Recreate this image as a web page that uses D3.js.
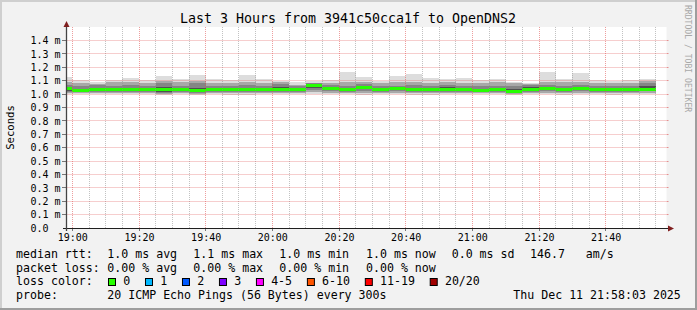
<!DOCTYPE html>
<html>
<head>
<meta charset="utf-8">
<script src="https://cdn.jsdelivr.net/npm/d3@7"></script>
<style>
  html, body { margin: 0; padding: 0; background: #f2f2f2; }
  svg { display: block; }
  text { font-family: "DejaVu Sans Mono", monospace; fill: #000; }
</style>
</head>
<body>
<svg id="chart" width="697" height="310"></svg>
<script>
// 5 minute bins (start time of each bin)
const binTimes = ["18:55", "19:00", "19:05", "19:10", "19:15", "19:20", "19:25", "19:30", "19:35",
  "19:40", "19:45", "19:50", "19:55", "20:00", "20:05", "20:10", "20:15", "20:20", "20:25", "20:30",
  "20:35", "20:40", "20:45", "20:50", "20:55", "21:00", "21:05", "21:10", "21:15", "21:20", "21:25",
  "21:30", "21:35", "21:40", "21:45", "21:50"];

// sorted ping rtt percentiles per bin, in ms (p1 = fastest of 20, p20 = slowest)
const p1 = [1.003, 0.999, 0.999, 1.000, 0.999, 1.000, 0.994, 0.999, 0.993, 1.000, 0.994, 0.996, 0.999,
  0.999, 1.000, 1.000, 1.000, 0.999, 0.995, 0.999, 1.000, 0.996, 0.994, 0.999, 0.999, 0.998, 0.999,
  0.995, 0.997, 1.000, 0.994, 1.000, 0.999, 0.994, 0.999, 1.000];
const p4 = [1.010, 1.006, 1.008, 1.008, 1.008, 1.008, 1.002, 1.008, 1.002, 1.010, 1.004, 1.006, 1.008,
  1.008, 1.008, 1.015, 1.010, 1.008, 1.005, 1.008, 1.010, 1.006, 1.004, 1.008, 1.008, 1.005, 1.008,
  1.002, 1.006, 1.010, 1.004, 1.010, 1.008, 1.004, 1.008, 1.010];
const p7 = [1.018, 1.012, 1.018, 1.016, 1.015, 1.016, 1.010, 1.016, 1.010, 1.018, 1.014, 1.016, 1.018,
  1.018, 1.015, 1.030, 1.022, 1.018, 1.020, 1.018, 1.020, 1.015, 1.014, 1.018, 1.016, 1.012, 1.016,
  1.008, 1.016, 1.020, 1.012, 1.020, 1.016, 1.014, 1.016, 1.020];
const p9 = [1.025, 1.018, 1.026, 1.023, 1.021, 1.023, 1.018, 1.023, 1.016, 1.026, 1.023, 1.023, 1.026,
  1.026, 1.021, 1.045, 1.033, 1.026, 1.035, 1.026, 1.031, 1.023, 1.023, 1.026, 1.023, 1.019, 1.023,
  1.013, 1.026, 1.030, 1.019, 1.031, 1.023, 1.023, 1.023, 1.028];
const median = [1.042, 1.027, 1.035, 1.032, 1.030, 1.032, 1.035, 1.032, 1.025, 1.035, 1.032, 1.032, 1.035,
  1.035, 1.030, 1.067, 1.042, 1.035, 1.052, 1.035, 1.040, 1.032, 1.032, 1.035, 1.032, 1.028, 1.032,
  1.022, 1.035, 1.039, 1.035, 1.040, 1.032, 1.032, 1.032, 1.037];
const p12 = [1.050, 1.036, 1.044, 1.041, 1.040, 1.041, 1.055, 1.041, 1.042, 1.044, 1.041, 1.046, 1.044,
  1.055, 1.039, 1.078, 1.051, 1.044, 1.061, 1.044, 1.049, 1.041, 1.048, 1.050, 1.041, 1.037, 1.041,
  1.038, 1.055, 1.048, 1.044, 1.049, 1.047, 1.041, 1.041, 1.058];
const p14 = [1.065, 1.060, 1.065, 1.062, 1.068, 1.060, 1.080, 1.060, 1.085, 1.062, 1.058, 1.068, 1.062,
  1.075, 1.058, 1.080, 1.065, 1.062, 1.075, 1.060, 1.062, 1.065, 1.060, 1.065, 1.060, 1.060, 1.062,
  1.062, 1.068, 1.065, 1.062, 1.065, 1.062, 1.058, 1.060, 1.082];
const p17 = [1.090, 1.085, 1.078, 1.088, 1.090, 1.085, 1.095, 1.088, 1.100, 1.085, 1.085, 1.090, 1.085,
  1.090, 1.070, 1.085, 1.085, 1.090, 1.090, 1.085, 1.088, 1.090, 1.085, 1.090, 1.085, 1.085, 1.088,
  1.080, 1.075, 1.090, 1.088, 1.090, 1.085, 1.082, 1.085, 1.095];
const p20 = [1.129, 1.104, 1.090, 1.104, 1.119, 1.104, 1.134, 1.112, 1.142, 1.112, 1.104, 1.142, 1.112,
  1.099, 1.090, 1.099, 1.104, 1.164, 1.129, 1.099, 1.134, 1.149, 1.119, 1.109, 1.119, 1.104, 1.112,
  1.090, 1.080, 1.164, 1.114, 1.160, 1.104, 1.094, 1.104, 1.114];

const xTickLabels = ["19:00", "19:20", "19:40", "20:00", "20:20", "20:40", "21:00", "21:20", "21:40"];
const yTicks = [0, 0.1, 0.2, 0.3, 0.4, 0.5, 0.6, 0.7, 0.8, 0.9, 1.0, 1.1, 1.2, 1.3, 1.4];

const rttValues = [1.0, 1.1, 1.0, 1.0, 0.0];
const rttNames = ["avg", "max", "min", "now", "sd"];
const amPerSec = 146.7;
const lossValues = [0.00, 0.00, 0.00, 0.00];
const lossNames = ["avg", "max", "min", "now"];
const lossLabels = ["0", "1", "2", "3", "4-5", "6-10", "11-19", "20/20"];
const lossColors = ["#26ff00", "#00b8ff", "#0059ff", "#7e00ff", "#ff00ff", "#ff5500", "#ff0000", "#a10000"];

const title = "Last 3 Hours from 3941c50cca1f to OpenDNS2";
const probeText = "20 ICMP Echo Pings (56 Bytes) every 300s";
const stampText = "Thu Dec 11 21:58:03 2025";

const parseT = s => { const [h, m] = s.split(":").map(Number); return new Date(2025, 11, 11, h, m); };
const tStart = new Date(2025, 11, 11, 18, 58, 15);
const tEnd = new Date(2025, 11, 11, 21, 58, 15);

const W = 697, H = 310;
const plot = { left: 66.5, right: 666.5, top: 27, bottom: 228 };
const svg = d3.select("#chart");

const x = d3.scaleTime().domain([tStart, tEnd]).range([plot.left, plot.right]);
const y = d3.scaleLinear().domain([0, 1.5]).range([plot.bottom, plot.top]);
const snap = v => Math.floor(v) + 0.5;

// background and shaded frame
svg.append("rect").attr("width", W).attr("height", H).attr("fill", "#f2f2f2");
svg.append("rect").attr("width", W).attr("height", 2).attr("fill", "#cfcfcf");
svg.append("rect").attr("width", 2).attr("height", H).attr("fill", "#cfcfcf");
svg.append("rect").attr("y", H - 2).attr("width", W).attr("height", 2).attr("fill", "#9e9e9e");
svg.append("rect").attr("x", W - 2).attr("width", 2).attr("height", H).attr("fill", "#9e9e9e");

svg.append("rect")
  .attr("x", plot.left).attr("y", plot.top)
  .attr("width", plot.right - plot.left).attr("height", plot.bottom - plot.top)
  .attr("fill", "#fff");

svg.append("clipPath").attr("id", "clip").append("rect")
  .attr("x", plot.left).attr("y", plot.top)
  .attr("width", plot.right - plot.left).attr("height", plot.bottom - plot.top);

const bins = binTimes.map((t, i) => ({
  t0: parseT(t), t1: d3.timeMinute.offset(parseT(t), 5), i
}));

// smoke: outer pairs lightest, inner pairs darker
const smoke = [
  { lo: p1, hi: p20, color: "#dddddd" },
  { lo: p4, hi: p17, color: "#a8a8a8" },
  { lo: p7, hi: p14, color: "#858585" },
  { lo: p9, hi: p12, color: "#505050" }
];

const data = svg.append("g").attr("clip-path", "url(#clip)");
smoke.forEach(band => {
  data.append("g").selectAll("rect")
    .data(bins)
    .join("rect")
    .attr("shape-rendering", "crispEdges")
    .attr("x", d => x(d.t0))
    .attr("width", d => x(d.t1) - x(d.t0))
    .attr("y", d => y(band.hi[d.i]))
    .attr("height", d => y(band.lo[d.i]) - y(band.hi[d.i]))
    .attr("fill", band.color);
});

// median, coloured by loss (0 loss = green)
data.append("g").selectAll("rect")
  .data(bins)
  .join("rect")
  .attr("shape-rendering", "crispEdges")
  .attr("x", d => x(d.t0))
  .attr("width", d => x(d.t1) - x(d.t0))
  .attr("y", d => y(median[d.i]) - 1.5)
  .attr("height", 3)
  .attr("fill", lossColors[0]);

// grid on top of the data, like rrdtool
const grid = svg.append("g");
const minor = d3.timeMinute.every(5).range(tStart, tEnd);
grid.selectAll("line.minor")
  .data(minor.filter(t => t.getMinutes() % 20 !== 0))
  .join("line")
  .attr("x1", d => snap(x(d))).attr("x2", d => snap(x(d)))
  .attr("y1", plot.top).attr("y2", plot.bottom)
  .attr("stroke", "rgba(143,143,143,0.55)")
  .attr("stroke-dasharray", "1,1");

const majorTimes = xTickLabels.map(parseT);
grid.selectAll("line.major")
  .data(majorTimes)
  .join("line")
  .attr("x1", d => snap(x(d))).attr("x2", d => snap(x(d)))
  .attr("y1", plot.top).attr("y2", plot.bottom)
  .attr("stroke", "rgba(222,79,79,0.55)")
  .attr("stroke-dasharray", "1,1");

grid.selectAll("line.hmajor")
  .data(yTicks.filter(v => v > 0))
  .join("line")
  .attr("x1", plot.left).attr("x2", plot.right)
  .attr("y1", d => snap(y(d))).attr("y2", d => snap(y(d)))
  .attr("stroke", "rgba(222,79,79,0.55)")
  .attr("stroke-dasharray", "1,1");

// little ticks outside the canvas
grid.selectAll("line.ytl")
  .data(yTicks.filter(v => v > 0))
  .join("line")
  .attr("x1", 62).attr("x2", 66)
  .attr("y1", d => snap(y(d))).attr("y2", d => snap(y(d)))
  .attr("stroke", "#777");
grid.selectAll("line.ytr")
  .data(yTicks.filter(v => v > 0))
  .join("line")
  .attr("x1", plot.right).attr("x2", plot.right + 2)
  .attr("y1", d => snap(y(d))).attr("y2", d => snap(y(d)))
  .attr("stroke", "rgba(222,79,79,0.6)");
grid.selectAll("line.xt")
  .data(majorTimes)
  .join("line")
  .attr("x1", d => snap(x(d))).attr("x2", d => snap(x(d)))
  .attr("y1", plot.bottom).attr("y2", plot.bottom + 3)
  .attr("stroke", "#777");

// axes with arrows
svg.append("line")
  .attr("x1", 63).attr("x2", 669)
  .attr("y1", plot.bottom + 0.5).attr("y2", plot.bottom + 0.5)
  .attr("stroke", "#1f1f1f");
svg.append("line")
  .attr("x1", plot.left).attr("x2", plot.left)
  .attr("y1", 231).attr("y2", 24)
  .attr("stroke", "#444")
  .attr("stroke-width", 1.3);
svg.append("path")
  .attr("d", "M668,225.5L674,228.5L668,231.5Z")
  .attr("fill", "#801f1f");
svg.append("path")
  .attr("d", "M63.5,27L66.5,21L69.5,27Z")
  .attr("fill", "#801f1f");

// axis labels
svg.append("g").selectAll("text")
  .data(yTicks)
  .join("text")
  .attr("x", 30.5)
  .attr("y", d => y(d) + 3.8)
  .attr("font-size", "10px")
  .text(d => d === 0 ? "0.0" : d.toFixed(1) + " m");

svg.append("g").selectAll("text")
  .data(xTickLabels)
  .join("text")
  .attr("x", d => x(parseT(d)) + 0.5)
  .attr("y", 241)
  .attr("text-anchor", "middle")
  .attr("font-size", "10px")
  .text(d => d);

svg.append("text")
  .attr("transform", "translate(14,127.5) rotate(-90)")
  .attr("text-anchor", "middle")
  .attr("font-size", "10.6px")
  .text("Seconds");

svg.append("text")
  .attr("x", 348).attr("y", 23)
  .attr("text-anchor", "middle")
  .attr("font-size", "13.3px")
  .text(title);

svg.append("text")
  .attr("transform", "translate(685,5) rotate(90)")
  .attr("font-size", "8.1px")
  .style("fill", "#a8a8a8")
  .text("RRDTOOL / TOBI OETIKER");

// legend
const fs = "11.6px";
const rowY = [258.3, 271.8, 285.3, 298.8];
const colX = [107.3, 193.3, 279.3, 366, 451.7];
const legend = svg.append("g").attr("font-size", fs);
const put = (txt, lx, ly) => legend.append("text").attr("x", lx).attr("y", ly).attr("xml:space", "preserve").text(txt);

put("median rtt:", 16, rowY[0]);
rttValues.forEach((v, i) => put(`${v.toFixed(1)} ms ${rttNames[i]}`, colX[i], rowY[0]));
put(`${amPerSec.toFixed(1)}   am/s`, 530, rowY[0]);

put("packet loss:", 16, rowY[1]);
lossValues.forEach((v, i) => put(`${v.toFixed(2)} % ${lossNames[i]}`, colX[i], rowY[1]));

put("loss color:", 16, rowY[2]);
let lx = 108.5;
lossLabels.forEach((lab, i) => {
  legend.append("rect")
    .attr("x", lx).attr("y", rowY[2] - 6.8)
    .attr("width", 7).attr("height", 7)
    .attr("fill", lossColors[i])
    .attr("stroke", "#000");
  const t = put(lab, lx + 14.7, rowY[2]);
  lx += 14.7 + t.node().getComputedTextLength() + 15.3;
});

put("probe:", 16, rowY[3]);
put(probeText, 107.3, rowY[3]);
put(stampText, 513.3, rowY[3]);
</script>
</body>
</html>
